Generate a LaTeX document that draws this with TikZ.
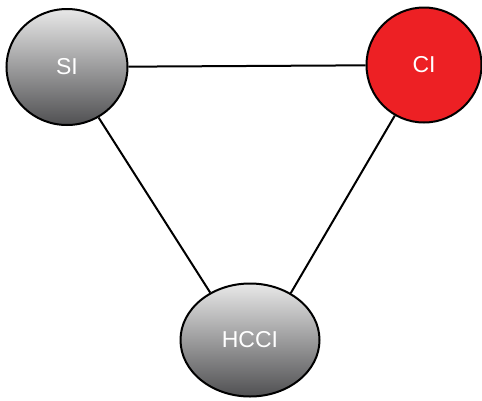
\documentclass[tikz,border=0pt]{standalone}
\usepackage{fontspec}
\setmainfont{Liberation Sans}
\usetikzlibrary{shapes.geometric}
\definecolor{cired}{RGB}{237,32,36}
\definecolor{shadetop}{RGB}{232,232,232}
\definecolor{shademid}{RGB}{165,165,167}
\definecolor{shadebot}{RGB}{80,80,82}
\tikzset{
  mode/.style={ellipse, draw=black, line width=2pt, inner sep=0pt,
    text=white, font=\fontsize{23}{27}\selectfont},
  greymode/.style={mode, top color=shadetop, middle color=shademid, bottom color=shadebot},
  link/.style={draw=black, line width=2pt}
}
\begin{document}
\begin{tikzpicture}[x=1pt,y=-1pt]
  \useasboundingbox (0,0) rectangle (482,400);
  \node[greymode, minimum width=121pt, minimum height=116pt] (si) at (67,67) {SI};
  \node[mode, fill=cired, minimum width=115pt, minimum height=115pt] (ci) at (424,65) {CI};
  \node[greymode, minimum width=139pt, minimum height=113pt] (hcci) at (250,340) {HCCI};
  \draw[link] (si) -- (ci);
  \draw[link] (si.302) -- (hcci.130);
  \draw[link] (ci.240) -- (hcci.49);
\end{tikzpicture}
\end{document}
